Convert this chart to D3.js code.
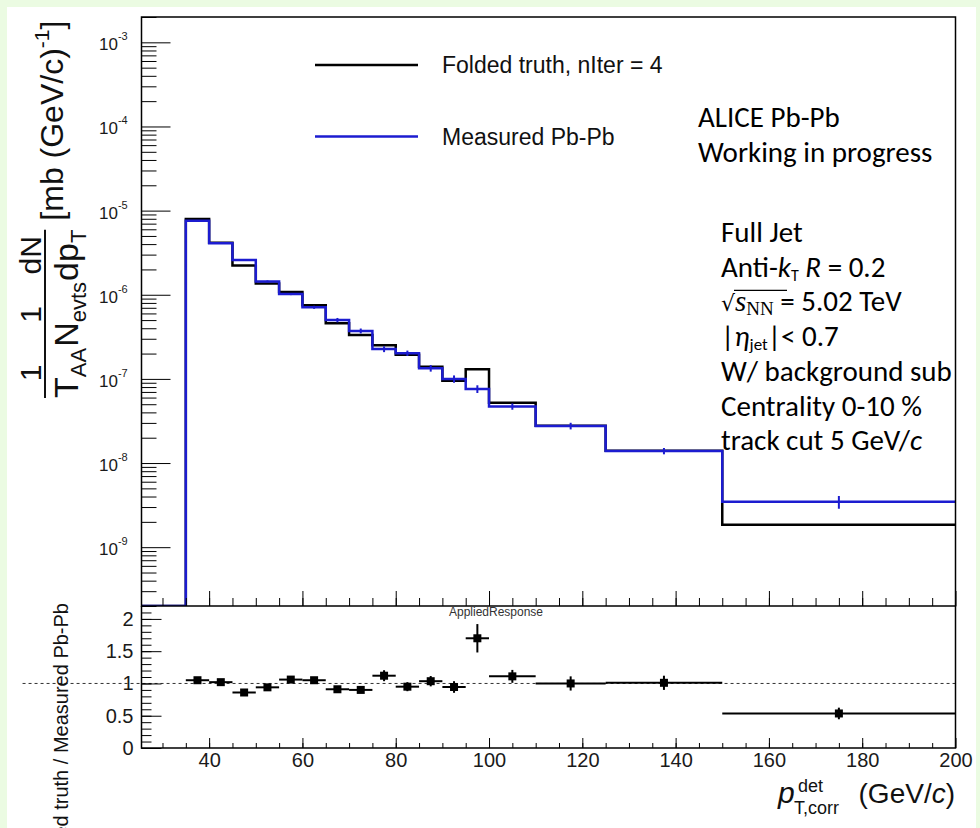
<!DOCTYPE html>
<meta charset="utf-8">
<style>
body { margin: 0; background: #ebfbe2; }
svg { display: block; font-family: "Liberation Sans", Arial, sans-serif; }
.frame { fill: none; stroke: #000; stroke-width: 1.5; }
.axis path.domain { display: none; }
.axis line { stroke: #000; stroke-width: 1; }
.axis text { fill: #1a1a1a; }
.big text { font-size: 20px; font-family: "Liberation Sans", Arial, sans-serif; }
.note { font-family: Carlito, Lato, sans-serif; font-size: 29px; fill: #000; }
</style>
<body></body>
<script src="https://d3js.org/d3.v7.min.js"></script>
<script>

// bin edges (GeV/c); first bin is empty
var binEdges = [25, 35, 40, 45, 50, 55, 60, 65, 70, 75, 80, 85, 90, 95, 100, 110, 125, 150, 200];

// folded truth (nIter = 4) and measured Pb-Pb spectra
var folded   = [0, 7.95e-6, 4.15e-6, 2.22e-6, 1.36e-6, 1.08e-6, 7.5e-7, 4.6e-7, 3.33e-7, 2.52e-7, 1.93e-7, 1.39e-7, 9.5e-8, 1.3e-7, 5.2e-8, 2.78e-8, 1.4e-8, 1.85e-9];
var measured = [0, 7.6e-6, 4.1e-6, 2.58e-6, 1.44e-6, 1.02e-6, 7.1e-7, 5.0e-7, 3.72e-7, 2.26e-7, 2.02e-7, 1.34e-7, 1.0e-7, 7.6e-8, 4.7e-8, 2.76e-8, 1.39e-8, 3.46e-9];
var measuredErr = [0, 1.0e-7, 6e-8, 5e-8, 4e-8, 3e-8, 3e-8, 3e-8, 2.5e-8, 1.8e-8, 1.5e-8, 1.2e-8, 1.0e-8, 8e-9, 4e-9, 2.5e-9, 1.2e-9, 6e-10];

// ratio folded / measured
var ratio    = [null, 1.05, 1.02, 0.86, 0.94, 1.06, 1.05, 0.91, 0.90, 1.12, 0.95, 1.035, 0.945, 1.70, 1.11, 1.0, 1.01, 0.535];
var ratioErr = [null, 0.04, 0.04, 0.04, 0.04, 0.05, 0.05, 0.04, 0.04, 0.085, 0.07, 0.08, 0.09, 0.22, 0.1, 0.11, 0.11, 0.09];

// axis ticks
var xMajor = [40, 60, 80, 100, 120, 140, 160, 180, 200];
var xMinor = d3.range(30, 200, 5);
var yExp = [-9, -8, -7, -6, -5, -4, -3];
var rMajor = [0, 0.5, 1, 1.5, 2];
var rMinor = d3.range(0, 22).map(function(i) { return i / 10; });

var W = 980, H = 828;
var m = {left: 141.5, right: 955.5, top: 17, mid: 606, bottom: 748};
var blue = "#1c1cd0";

var svg = d3.select("body").append("svg")
    .attr("width", W)
    .attr("height", H);

svg.append("rect")
    .attr("x", 7).attr("y", 7)
    .attr("width", 969).attr("height", H - 7)
    .attr("fill", "#fff");

var x = d3.scaleLinear().domain([25.5, 200]).range([m.left, m.right]);
var yTop = d3.scaleLog().domain([2e-10, 2e-3]).range([m.mid, m.top]);
var yBot = d3.scaleLinear().domain([0, 2.2]).range([m.bottom, m.mid]);

svg.append("clipPath").attr("id", "clipTop")
  .append("rect")
    .attr("x", m.left).attr("y", m.top)
    .attr("width", m.right - m.left).attr("height", m.mid - m.top);

// ---------- top panel ----------
function stepData(vals) {
  var pts = vals.map(function(v, i) { return [binEdges[i], v]; });
  pts.push([binEdges[binEdges.length - 1], vals[vals.length - 1]]);
  return pts;
}
var step = d3.line()
    .x(function(d) { return x(d[0]); })
    .y(function(d) { return d[1] > 0 ? yTop(d[1]) : m.mid; })
    .curve(d3.curveStepAfter);

var plot = svg.append("g").attr("clip-path", "url(#clipTop)");

plot.append("path")
    .datum(stepData(folded))
    .attr("fill", "none")
    .attr("stroke", "#000")
    .attr("stroke-width", 2.5)
    .attr("d", step);

plot.append("path")
    .datum(stepData(measured))
    .attr("fill", "none")
    .attr("stroke", blue)
    .attr("stroke-width", 2.5)
    .attr("d", step);

plot.selectAll(".err")
    .data(measured.map(function(v, i) { return {c: (binEdges[i] + binEdges[i + 1]) / 2, v: v, e: measuredErr[i]}; })
                  .filter(function(d) { return d.v > 0; }))
  .enter().append("line")
    .attr("class", "err")
    .attr("x1", function(d) { return x(d.c); })
    .attr("x2", function(d) { return x(d.c); })
    .attr("y1", function(d) { return yTop(d.v - d.e); })
    .attr("y2", function(d) { return yTop(d.v + d.e); })
    .attr("stroke", blue)
    .attr("stroke-width", 2);

// y axis (log), ticks pointing inwards
var logTicks = yTop.ticks();
var isMajor = function(v) { return Math.abs(Math.log10(v) - Math.round(Math.log10(v))) < 1e-6; };
svg.append("g")
    .attr("class", "axis")
    .attr("transform", "translate(" + m.left + ",0)")
    .call(d3.axisLeft(yTop).tickValues(logTicks.filter(function(v) { return !isMajor(v); })).tickSize(-15).tickFormat(""));
svg.append("g")
    .attr("class", "axis")
    .attr("transform", "translate(" + m.left + ",0)")
    .call(d3.axisLeft(yTop).tickValues(yExp.map(function(e) { return Math.pow(10, e); })).tickSize(-29).tickFormat(""));

var ylab = svg.selectAll(".ylab")
    .data(yExp)
  .enter().append("text")
    .attr("class", "ylab")
    .attr("x", 99)
    .attr("y", function(e) { return yTop(Math.pow(10, e)) + 8; })
    .attr("fill", "#1a1a1a")
    .style("font-size", "17px");
ylab.append("tspan").text("10");
ylab.append("tspan")
    .attr("dy", -10)
    .style("font-size", "11px")
    .text(function(e) { return String(e); });

// x ticks along the bottom of the top panel
svg.append("g")
    .attr("class", "axis")
    .attr("transform", "translate(0," + m.mid + ")")
    .call(d3.axisBottom(x).tickValues(xMinor).tickSize(-8).tickFormat(""));
svg.append("g")
    .attr("class", "axis")
    .attr("transform", "translate(0," + m.mid + ")")
    .call(d3.axisBottom(x).tickValues(xMajor).tickSize(-15).tickFormat(""));

svg.append("rect")
    .attr("class", "frame")
    .attr("x", m.left).attr("y", m.top)
    .attr("width", m.right - m.left).attr("height", m.mid - m.top);

// legend
var legend = [{label: "Folded truth, nIter = 4", color: "#000", y: 65},
              {label: "Measured Pb-Pb", color: blue, y: 136.5}];
legend.forEach(function(l) {
  svg.append("line")
      .attr("x1", 315).attr("x2", 418)
      .attr("y1", l.y).attr("y2", l.y)
      .attr("stroke", l.color)
      .attr("stroke-width", 2.5);
  svg.append("text")
      .attr("x", 442)
      .attr("y", l.y + 8)
      .style("font-size", "23px")
      .attr("fill", "#111")
      .text(l.label);
});

// y axis title of the top panel (rotated, built from fractions)
var yt = svg.append("g")
    .attr("transform", "rotate(-90)")
    .attr("fill", "#111");
var fracs = [["1", "T", "AA"], ["1", "N", "evts"], ["dN", "dp", "T"]];
var pos = -398;
fracs.forEach(function(f) {
  var den = yt.append("text")
      .attr("x", pos)
      .attr("y", 78)
      .style("font-size", "34px");
  den.append("tspan").text(f[1]);
  den.append("tspan").attr("dy", 8).style("font-size", "22px").text(f[2]);
  var w = den.node().getComputedTextLength();
  yt.append("text")
      .attr("x", pos + w / 2)
      .attr("y", 41)
      .attr("text-anchor", "middle")
      .style("font-size", "30px")
      .text(f[0]);
  pos += w + 1;
});
yt.append("line")
    .attr("x1", -398).attr("x2", pos - 1)
    .attr("y1", 45).attr("y2", 45)
    .attr("stroke", "#111")
    .attr("stroke-width", 2);
var unit = yt.append("text")
    .attr("x", pos + 8)
    .attr("y", 63)
    .style("font-size", "32px");
unit.append("tspan").text("[mb (GeV/c)");
unit.append("tspan").attr("dy", -14).style("font-size", "21px").text("-1");
unit.append("tspan").attr("dy", 14).text("]");

// ---------- bottom panel ----------
svg.append("line")
    .attr("x1", x(0)).attr("x2", x(200))
    .attr("y1", yBot(1)).attr("y2", yBot(1))
    .attr("stroke", "#333")
    .attr("stroke-width", 1)
    .attr("stroke-dasharray", "3,3");

var pts = ratio.map(function(r, i) {
  return {lo: binEdges[i], hi: binEdges[i + 1], r: r, e: ratioErr[i]};
}).filter(function(d) { return d.r !== null; });

var rp = svg.append("g").selectAll("g")
    .data(pts)
  .enter().append("g");
rp.append("line")
    .attr("x1", function(d) { return x(d.lo); })
    .attr("x2", function(d) { return x(d.hi); })
    .attr("y1", function(d) { return yBot(d.r); })
    .attr("y2", function(d) { return yBot(d.r); })
    .attr("stroke", "#000").attr("stroke-width", 2);
rp.append("line")
    .attr("x1", function(d) { return x((d.lo + d.hi) / 2); })
    .attr("x2", function(d) { return x((d.lo + d.hi) / 2); })
    .attr("y1", function(d) { return yBot(d.r - d.e); })
    .attr("y2", function(d) { return yBot(d.r + d.e); })
    .attr("stroke", "#000").attr("stroke-width", 2);
rp.append("rect")
    .attr("x", function(d) { return x((d.lo + d.hi) / 2) - 4; })
    .attr("y", function(d) { return yBot(d.r) - 4; })
    .attr("width", 8).attr("height", 8)
    .attr("fill", "#000");

svg.append("g")
    .attr("class", "axis")
    .attr("transform", "translate(" + m.left + ",0)")
    .call(d3.axisLeft(yBot).tickValues(rMinor).tickSize(-10).tickFormat(""));
svg.append("g")
    .attr("class", "axis big")
    .attr("transform", "translate(" + m.left + ",0)")
    .call(d3.axisLeft(yBot).tickValues(rMajor).tickSize(-20).tickPadding(8).tickFormat(d3.format("")));

svg.append("g")
    .attr("class", "axis")
    .attr("transform", "translate(0," + m.bottom + ")")
    .call(d3.axisBottom(x).tickValues(xMinor).tickSize(-5).tickFormat(""));
svg.append("g")
    .attr("class", "axis big")
    .attr("transform", "translate(0," + m.bottom + ")")
    .call(d3.axisBottom(x).tickValues(xMajor).tickSize(-10).tickPadding(5));

svg.append("path")
    .attr("class", "frame")
    .attr("d", "M" + m.left + "," + m.mid + "V" + m.bottom + "H" + m.right + "V" + m.mid);

svg.append("text")
    .attr("x", 496).attr("y", 616)
    .attr("text-anchor", "middle")
    .attr("fill", "#333")
    .style("font-size", "12px")
    .text("AppliedResponse");

// bottom y title (runs off the bottom edge, as in the original)
svg.append("text")
    .attr("transform", "rotate(-90)")
    .attr("x", -603).attr("y", 68)
    .attr("text-anchor", "end")
    .attr("fill", "#111")
    .style("font-size", "20px")
    .text("Folded truth / Measured Pb-Pb");

// x title
svg.append("text").attr("x", 778).attr("y", 803)
    .style("font-size", "30px").style("font-style", "italic").attr("fill", "#111").text("p");
svg.append("text").attr("x", 798).attr("y", 792)
    .style("font-size", "18px").attr("fill", "#111").text("det");
svg.append("text").attr("x", 794).attr("y", 814)
    .style("font-size", "18px").attr("fill", "#111").text("T,corr");
var xt = svg.append("text").attr("x", 955).attr("y", 803)
    .attr("text-anchor", "end")
    .style("font-size", "28px").attr("fill", "#111");
xt.append("tspan").text("(GeV/");
xt.append("tspan").style("font-style", "italic").text("c");
xt.append("tspan").text(")");

// ---------- annotations ----------
svg.append("text").attr("class", "note").attr("x", 698).attr("y", 127).text("ALICE Pb-Pb");
svg.append("text").attr("class", "note").attr("x", 698).attr("y", 162).text("Working in progress");

var nx = 721, ny = 242, dl = 34.7;
svg.append("text").attr("class", "note").attr("x", nx).attr("y", ny).text("Full Jet");

var t2 = svg.append("text").attr("class", "note").attr("x", nx).attr("y", ny + dl);
t2.append("tspan").text("Anti-");
t2.append("tspan").style("font-style", "italic").text("k");
t2.append("tspan").attr("dy", 4).style("font-size", "16px").text("T");
t2.append("tspan").attr("dy", -4).text(" ");
t2.append("tspan").style("font-style", "italic").text("R");
t2.append("tspan").text(" = 0.2");

var t3 = svg.append("text").attr("class", "note").attr("x", nx).attr("y", ny + 2 * dl);
t3.append("tspan").style("font-family", "DejaVu Sans, sans-serif").style("font-size", "22px").text("\u221A");
t3.append("tspan").style("font-family", "Liberation Serif, serif").style("font-style", "italic").text("s");
t3.append("tspan").attr("dy", 4).style("font-family", "Liberation Serif, serif").style("font-size", "19px").text("NN");
t3.append("tspan").attr("dy", -4).text(" = 5.02 TeV");
svg.append("line")
    .attr("x1", 734).attr("x2", 787)
    .attr("y1", ny + 2 * dl - 21).attr("y2", ny + 2 * dl - 21)
    .attr("stroke", "#000").attr("stroke-width", 1.3);

var t4 = svg.append("text").attr("class", "note").attr("x", nx).attr("y", ny + 3 * dl);
t4.append("tspan").text("|");
t4.append("tspan").style("font-style", "italic").text("\u03B7");
t4.append("tspan").attr("dy", 4).style("font-size", "17px").text("jet");
t4.append("tspan").attr("dy", -4).text("|< 0.7");

svg.append("text").attr("class", "note").attr("x", nx).attr("y", ny + 4 * dl).text("W/ background sub");
svg.append("text").attr("class", "note").attr("x", nx).attr("y", ny + 5 * dl).text("Centrality 0-10 %");
var t7 = svg.append("text").attr("class", "note").attr("x", nx).attr("y", ny + 6 * dl);
t7.append("tspan").text("track cut 5 GeV/");
t7.append("tspan").style("font-style", "italic").text("c");

</script>
